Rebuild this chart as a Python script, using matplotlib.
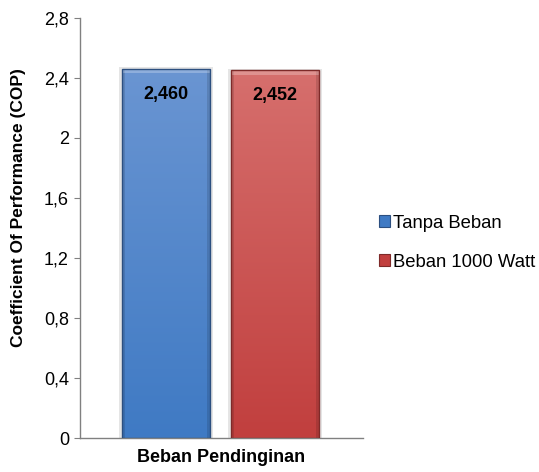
import matplotlib
matplotlib.use("Agg")
import matplotlib.pyplot as plt
import numpy as np
from matplotlib.colors import LinearSegmentedColormap

plt.rcParams['font.family'] = ['Liberation Sans', 'DejaVu Sans']

series = ["Tanpa Beban", "Beban 1000 Watt"]
cop = [2.460, 2.452]
value_labels = ["2,460", "2,452"]
yticks = [0, 0.4, 0.8, 1.2, 1.6, 2.0, 2.4, 2.8]
ytick_labels = ["0", "0,4", "0,8", "1,2", "1,6", "2", "2,4", "2,8"]

# colours: (top, bottom, edge)
colors = [("#6a95d2", "#3f7ac4", "#2c4f80"),
          ("#d66f6d", "#c13f3e", "#7e2a29")]

fig = plt.figure(figsize=(5.39, 4.72), dpi=100)
ax = fig.add_axes([0.1484, 0.072, 0.525, 0.89])

xpos = [0, 1]
width = 0.81
bars = ax.bar(xpos, cop, width=width, color="none", edgecolor="none", zorder=2)

for b, (top, bot, edge), lab in zip(bars, colors, value_labels):
    x0, h = b.get_x(), b.get_height()
    # soft shadow
    ax.bar(x0 + width / 2, h + 0.01, width=width + 0.05, color="#000000",
           alpha=0.10, zorder=1)
    cmap = LinearSegmentedColormap.from_list("g", [bot, top])
    grad = np.linspace(0, 1, 256).reshape(-1, 1)
    im = ax.imshow(grad, cmap=cmap, origin="lower", aspect="auto",
                   extent=(x0, x0 + width, 0, h), zorder=2)
    im.set_clip_path(b)
    # darker sides (bevel)
    for sx in (x0, x0 + width - 0.03):
        ax.add_patch(plt.Rectangle((sx, 0), 0.03, h, color="black",
                                   alpha=0.12, linewidth=0, zorder=3))
    ax.add_patch(plt.Rectangle((x0, h - 0.03), width, 0.03,
                               color="white", alpha=0.25, linewidth=0, zorder=3))
    ax.add_patch(plt.Rectangle((x0, 0), width, h, fill=False,
                               edgecolor=edge, linewidth=1.0, zorder=3))
    ax.text(x0 + width / 2, h - 0.17, lab, ha="center", va="center",
            fontsize=13, fontweight="bold", zorder=4)

ax.set_xlim(-0.79, 1.81)
ax.set_ylim(0, 2.8)
ax.set_yticks(yticks)
ax.set_yticklabels(ytick_labels)
ax.set_xticks([])
for s in ["top", "right"]:
    ax.spines[s].set_visible(False)
for s in ["left", "bottom"]:
    ax.spines[s].set_color("#808080")
    ax.spines[s].set_linewidth(1.0)
ax.tick_params(axis="y", length=4, color="#808080", labelsize=13, pad=4)

ax.set_ylabel("Coefficient Of Performance (COP)", fontsize=12.5,
              fontweight="bold")
ax.yaxis.set_label_coords(-0.19, 0.548)
ax.set_xlabel("Beban Pendinginan", fontsize=13, fontweight="bold",
              labelpad=8)

handles = [plt.Rectangle((0, 0), 1, 1, facecolor=c[1], edgecolor=c[2],
                         linewidth=0.8) for c in colors]
fig.legend(handles, series, loc="center left", bbox_to_anchor=(0.673, 0.486),
           frameon=False, fontsize=13.3, handlelength=0.6, handleheight=0.6,
           handletextpad=0.15, labelspacing=1.2)

fig.savefig("out.png", dpi=100)
